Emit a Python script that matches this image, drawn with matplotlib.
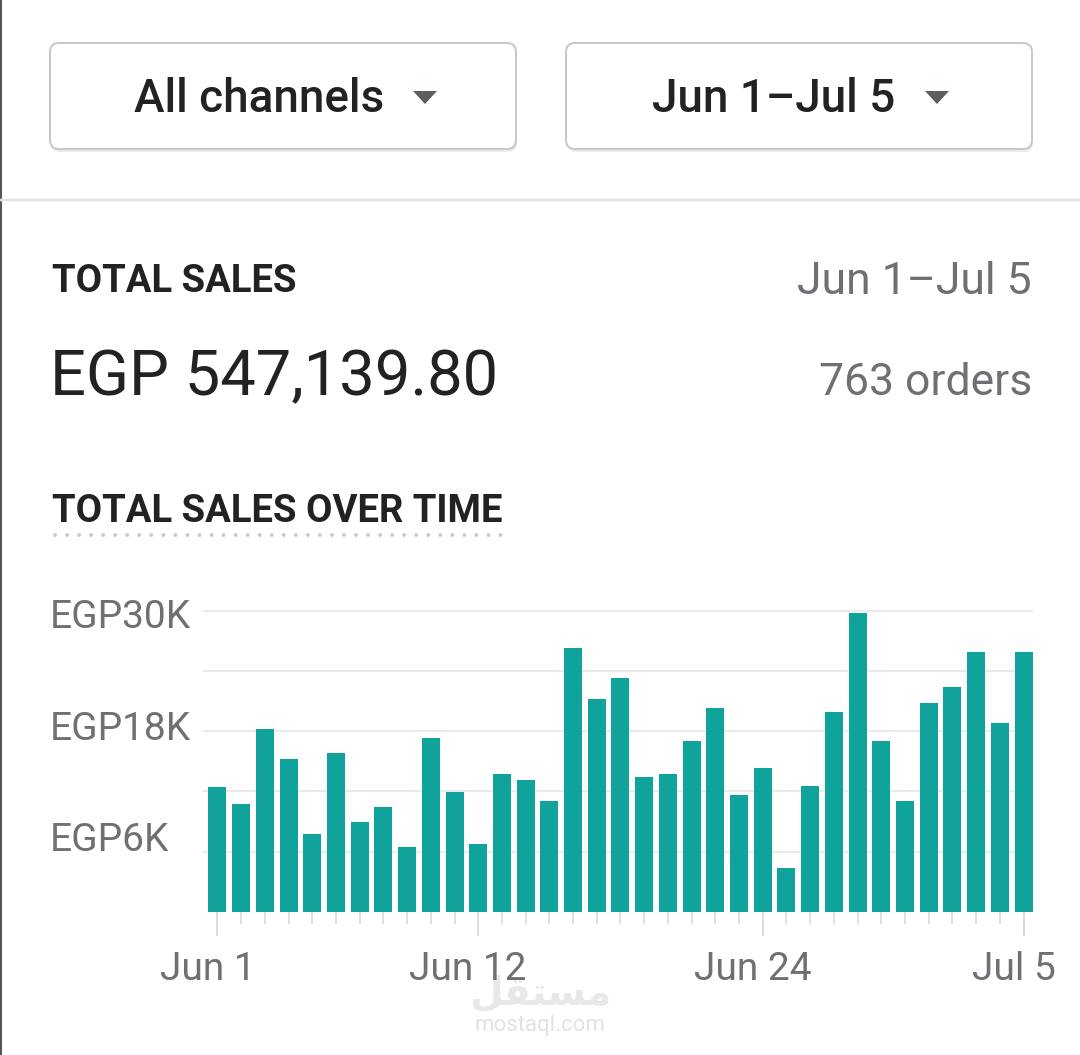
import matplotlib
matplotlib.use('Agg')
from matplotlib import pyplot as plt
from matplotlib.patches import FancyBboxPatch, Polygon
from matplotlib.transforms import ScaledTranslation
import numpy as np

plt.rcParams['font.family'] = ['Roboto', 'DejaVu Sans']

# data (EGP per day)
days = [f'Jun {d}' for d in range(1, 31)] + [f'Jul {d}' for d in range(1, 6)]
sales = [12460, 10700, 18200, 15200, 7700, 15800, 8900, 10400, 6500, 17300,
         11900, 6800, 13700, 13100, 11000, 26300, 21200, 23300, 13400, 13700,
         17000, 20300, 11600, 14300, 4400, 12500, 19900, 29800, 17000, 11000,
         20800, 22400, 25900, 18800, 25900]
tick_days = ['Jun 1', 'Jun 12', 'Jun 24', 'Jul 5']
y_ticks = [6000, 18000, 30000]
y_labels = ['EGP6K', 'EGP18K', 'EGP30K']
y_minor = [12000, 24000]
total_sales = 'EGP 547,139.80'
orders = 763
period = 'Jun 1\u2013Jul 5'
channel = 'All channels'

DARK = '#202223'
GRAY = '#6d7175'
TEAL = '#0fa39b'
PT = 0.72  # points per pixel at dpi 100

W, H = 1080, 1055
fig = plt.figure(figsize=(W / 100, H / 100), dpi=100)

# background layer in pixel coordinates (y down)
bg = fig.add_axes([0, 0, 1, 1], zorder=0)
bg.set_xlim(0, W)
bg.set_ylim(H, 0)
bg.axis('off')

bg.plot([1.2, 1.2], [0, H], color='#555555', lw=2 * PT)
bg.plot([0, W], [200, 200], color='#dfe0e1', lw=2.5 * PT)

# dropdown buttons
for x0 in (50, 566):
    bg.add_patch(FancyBboxPatch((x0 + 1, 46), 466, 106, boxstyle='round,pad=0,rounding_size=9',
                                fc='#ececec', ec='none'))
    bg.add_patch(FancyBboxPatch((x0, 43), 466, 106, boxstyle='round,pad=0,rounding_size=9',
                                fc='white', ec='#c6c8ca', lw=2 * PT))
for cx in (425, 937):
    bg.add_patch(Polygon([[cx - 12, 91], [cx + 12, 91], [cx, 104]], closed=True,
                         fc='#5c5f62', ec='none'))
bg.text(259, 112, channel, ha='center', va='baseline', fontsize=33, fontweight='medium', color=DARK)
bg.text(774, 112, period, ha='center', va='baseline', fontsize=33, fontweight='medium', color=DARK)

# header texts
bg.text(52, 292, 'TOTAL SALES', va='baseline', fontsize=27.5, fontweight='bold', color=DARK)
bg.text(1032, 294, period, ha='right', va='baseline', fontsize=32, color=GRAY)
bg.text(50, 395, total_sales, va='baseline', fontsize=45.5, color=DARK)
bg.text(1032, 395, f'{orders} orders', ha='right', va='baseline', fontsize=32, color=GRAY)
bg.text(52, 522, 'TOTAL SALES OVER TIME', va='baseline', fontsize=27.5, fontweight='bold', color=DARK)
bg.plot([55, 503], [535, 535], ls=(0, (0.01, 3)), lw=4 * PT, color='#c9cccf', dash_capstyle='round')

# watermark
bg.text(540, 1005, '\uFEDE\uFED8\uFE98\uFEB4\uFEE3', ha='center', va='baseline',
        family='DejaVu Sans', fontsize=28, fontweight='bold', color='#e8e8e8')
bg.text(540, 1031, 'mostaql.com', ha='center', va='baseline', fontsize=16, color='#e2e2e2')

# chart
ax = fig.add_axes([203 / W, 1 - 911.7 / H, 830 / W, 310.9 / H], zorder=1)
ax.patch.set_alpha(0)
x = np.arange(len(sales))
ax.bar(x, sales, width=0.76, color=TEAL, zorder=2)
ax.set_xlim(-0.61, 34.40)
ax.set_ylim(0, 31000)
for s in ax.spines.values():
    s.set_visible(False)

ax.set_yticks(y_ticks, y_labels)
ax.set_yticks(y_minor, minor=True)
ax.grid(axis='y', which='both', color='#e4e5e7', lw=1.5 * PT, zorder=0)
ax.set_axisbelow(True)
ax.tick_params(axis='y', which='both', length=0, pad=153 * PT, labelsize=28, labelcolor=GRAY)
y_shift = [0.15, 0.055, -0.025]
for lbl, dy in zip(ax.get_yticklabels(), y_shift):
    lbl.set_ha('left')
    lbl.set_transform(lbl.get_transform() + ScaledTranslation(0, dy, fig.dpi_scale_trans))

ax.set_xticks([days.index(d) for d in tick_days], tick_days)
ax.set_xticks(x, minor=True)
ax.tick_params(axis='x', which='major', length=24 * PT, width=1.5 * PT, color='#cfd1d3',
               pad=11, labelsize=28, labelcolor=GRAY)
ax.tick_params(axis='x', which='minor', length=12 * PT, width=1.5 * PT, color='#d5d7d9')
for lbl in ax.get_xticklabels():
    lbl.set_transform(lbl.get_transform() + ScaledTranslation(-0.10, 0, fig.dpi_scale_trans))

fig.savefig('out.png', dpi=100)
